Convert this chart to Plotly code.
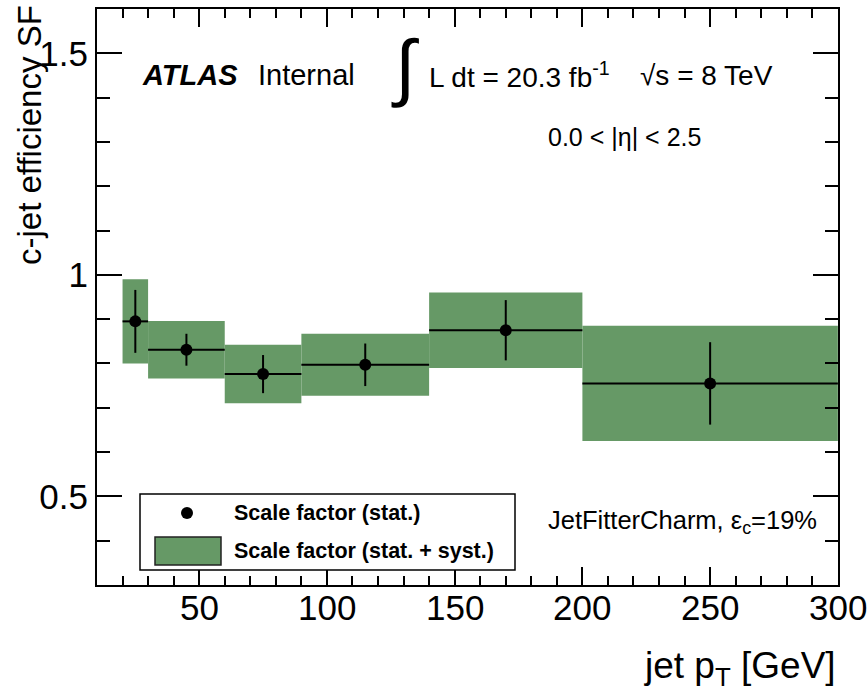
import plotly.graph_objects as go

# ---- data ----
bin_edges = [20, 30, 60, 90, 140, 200, 300]
sf_values = [0.895, 0.831, 0.776, 0.797, 0.875, 0.755]
stat_err = [0.071, 0.036, 0.043, 0.048, 0.068, 0.093]
total_err = [0.095, 0.065, 0.066, 0.070, 0.085, 0.130]
x_ticks = [50, 100, 150, 200, 250, 300]
x_ticklabels = ["50", "100", "150", "200", "250", "300"]
y_ticks = [0.5, 1.0, 1.5]
y_ticklabels = ["0.5", "1", "1.5"]

centers = [(a + b) / 2 for a, b in zip(bin_edges[:-1], bin_edges[1:])]
widths = [b - a for a, b in zip(bin_edges[:-1], bin_edges[1:])]
half_w = [w / 2 for w in widths]

GREEN = "#669966"
FONT = "Liberation Sans, Arial, sans-serif"

W, H = 867, 698
L, R, T, B = 97, 29, 9, 113
PW, PH = W - L - R, H - T - B


def px(x):
    return (x - L) / PW


def py(y):
    return (H - B - y) / PH


fig = go.Figure()

fig.add_trace(go.Bar(
    x=centers,
    y=[2 * e for e in total_err],
    base=[v - e for v, e in zip(sf_values, total_err)],
    width=widths,
    marker=dict(color=GREEN, line=dict(width=0)),
    showlegend=False,
    hoverinfo="skip",
))

fig.add_trace(go.Scatter(
    x=centers,
    y=sf_values,
    mode="markers",
    marker=dict(color="black", size=12),
    error_x=dict(type="data", array=half_w, width=0, thickness=2, color="black"),
    error_y=dict(type="data", array=stat_err, width=0, thickness=2, color="black"),
    showlegend=False,
))

axis_common = dict(
    showline=True, linecolor="black", linewidth=2, mirror="ticks",
    ticks="inside", tickcolor="black", tickwidth=1.5,
    showgrid=False, zeroline=False, automargin=False,
    tickfont=dict(family=FONT, size=35, color="black"),
)

fig.update_xaxes(
    range=[10, 300.05], tickmode="array", tickvals=x_ticks,
    ticklen=18, showticklabels=False,
    minor=dict(dtick=10, tick0=0, ticks="inside", ticklen=9, tickwidth=1.5, tickcolor="black", showgrid=False),
    **axis_common,
)
fig.update_yaxes(
    range=[0.3, 1.6], tickmode="array", tickvals=y_ticks, ticktext=y_ticklabels,
    ticklen=25,
    minor=dict(dtick=0.1, tick0=0, ticks="inside", ticklen=13, tickwidth=1.5, tickcolor="black", showgrid=False),
    **axis_common,
)

ann = []


def text(x, y, s, size, xanchor="left", yanchor="middle", textangle=0):
    ann.append(dict(
        x=px(x), y=py(y), xref="paper", yref="paper", text=s, showarrow=False,
        xanchor=xanchor, yanchor=yanchor, textangle=textangle,
        font=dict(family=FONT, size=size, color="black"),
    ))


# x tick labels placed on the x axis scale
for v, lab in zip(x_ticks, x_ticklabels):
    ann.append(dict(
        x=v, xref="x", y=py(607), yref="paper", text=lab, showarrow=False,
        xanchor="center", yanchor="middle",
        font=dict(family=FONT, size=35, color="black"),
    ))

text(140, 75, "<b><i>ATLAS</i></b>", 29)
text(256, 75, "Internal", 29)
text(405, 66, "∫", 74, xanchor="center")
text(427, 75, "L dt = 20.3 fb<sup>-1</sup>", 28)
text(638, 75, "√s = 8 TeV", 28)
text(546, 137, "0.0 < |η| < 2.5", 25)
text(546, 522, "JetFitterCharm, ε<sub>c</sub>=19%", 25.5)
text(838, 668, "jet p<sub>T</sub> [GeV]", 37, xanchor="right")
text(30, 3, "c-jet efficiency SF", 33, xanchor="center", yanchor="top", textangle=-90)
# legend texts
text(232, 513, "<b>Scale factor (stat.)</b>", 21.5)
text(232, 551, "<b>Scale factor (stat. + syst.)</b>", 21.5)

fig.update_layout(annotations=ann)

shapes = [
    dict(type="rect", xref="paper", yref="paper", x0=px(140), x1=px(515), y0=py(494), y1=py(570),
         line=dict(color="black", width=1.5), fillcolor="white", layer="above"),
    dict(type="circle", xref="paper", yref="paper", x0=px(181), x1=px(193), y0=py(507), y1=py(519),
         line=dict(color="black", width=0), fillcolor="black", layer="above"),
    dict(type="rect", xref="paper", yref="paper", x0=px(155), x1=px(221), y0=py(537), y1=py(565),
         line=dict(color="#222222", width=1.5), fillcolor=GREEN, layer="above"),
]
fig.update_layout(shapes=shapes)

fig.update_layout(
    width=W, height=H,
    margin=dict(l=L, r=R, t=T, b=B),
    plot_bgcolor="white", paper_bgcolor="white",
    font=dict(family=FONT, color="black"),
    barmode="overlay",
)

fig.write_html("out.html")
